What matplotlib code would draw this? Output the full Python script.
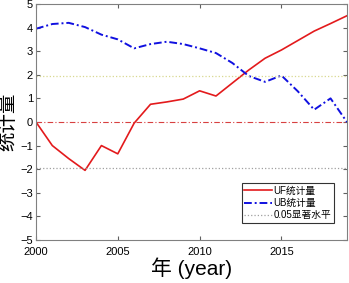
import matplotlib.pyplot as plt

plt.rcParams['font.family'] = ['Liberation Sans', 'Noto Sans CJK SC', 'DejaVu Sans']

anos = list(range(2000, 2020))
uf = [0, -1.0, -1.55, -2.05, -1.0, -1.35, -0.05, 0.75, 0.85, 0.97, 1.32, 1.1,
      1.65, 2.2, 2.7, 3.05, 3.45, 3.85, 4.17, 4.5]
ub = [3.95, 4.15, 4.2, 4.02, 3.7, 3.5, 3.12, 3.3, 3.4, 3.3, 3.12, 2.92,
      2.5, 1.95, 1.7, 1.97, 1.3, 0.52, 1.0, 0.0]
nivel = 1.96

fig = plt.figure(figsize=(3.49, 2.83), dpi=100)
ax = fig.add_axes([0.103, 0.152, 0.891, 0.834])

ax.plot(anos, uf, color='#e31a1c', linewidth=1.2, label='UF统计量')
ax.plot(anos, ub, color='#1010e0', linewidth=1.4, linestyle=(0, (4, 1.5, 1, 1.5)), label='UB统计量')
ax.axhline(nivel, color='#d8d890', linewidth=0.9, linestyle=':')
ax.axhline(-nivel, color='#a0a0a0', linewidth=0.9, linestyle=':', label='0.05显著水平')
ax.axhline(0, color='#d84040', linewidth=0.8, linestyle=(0, (5, 2, 1, 2)))

ax.set_xlim(2000, 2019)
ax.set_ylim(-5, 5)
ax.set_xticks([2000, 2005, 2010, 2015])
ax.set_yticks(range(-5, 6))
ax.tick_params(direction='in', top=True, right=True, labelsize=8, length=3,
               color='#606060')
ax.tick_params(axis='x', pad=5)
ax.tick_params(axis='y', pad=2)
for s in ax.spines.values():
    s.set_color('#808080')

ax.set_xlabel('年 (year)', fontsize=15, labelpad=0)
ax.set_ylabel('统计量', fontsize=14)
ax.yaxis.set_label_coords(-0.06, 0.5)

leg = ax.legend(loc='lower right', fontsize=7, frameon=True, fancybox=False,
                edgecolor='black', handlelength=2.8, handletextpad=0.2,
                borderpad=0.3, labelspacing=0.25, bbox_to_anchor=(0.975, 0.05))
leg.get_frame().set_linewidth(0.8)

fig.savefig('out.png', dpi=100)
